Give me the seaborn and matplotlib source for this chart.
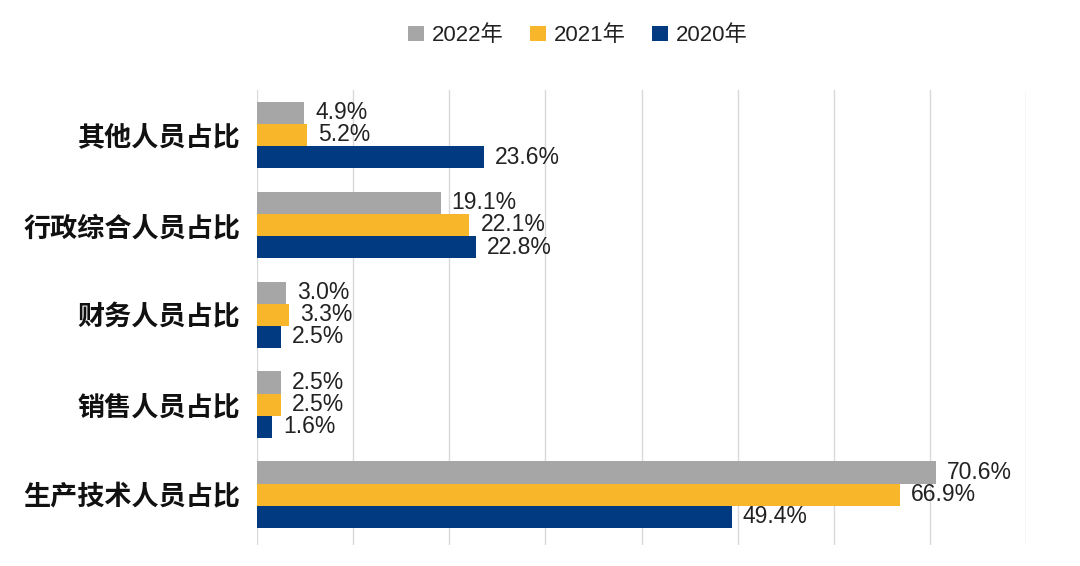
import matplotlib
matplotlib.use("Agg")
import matplotlib.pyplot as plt
import seaborn as sns
import pandas as pd
from matplotlib.patches import Patch

categories = ["其他人员占比", "行政综合人员占比", "财务人员占比", "销售人员占比", "生产技术人员占比"]
years = ["2022年", "2021年", "2020年"]
v2022 = [4.9, 19.1, 3.0, 2.5, 70.6]
v2021 = [5.2, 22.1, 3.3, 2.5, 66.9]
v2020 = [23.6, 22.8, 2.5, 1.6, 49.4]
colors = ["#A6A6A6", "#F8B72A", "#013A80"]

rows = []
for y, vals in zip(years, [v2022, v2021, v2020]):
    for c, v in zip(categories, vals):
        rows.append({"cat": c, "year": y, "val": v})
df = pd.DataFrame(rows)

sns.set_theme(style="white")
plt.rcParams["font.family"] = ["Noto Sans CJK SC", "DejaVu Sans"]

fig = plt.figure(figsize=(10.8, 5.66), dpi=100)
ax = fig.add_axes([257/1080, 1-545/566, (1026-257)/1080, (545-90)/566])

sns.barplot(data=df, y="cat", x="val", hue="year", order=categories, hue_order=years,
            palette=colors, orient="h", width=0.74, saturation=1, ax=ax, legend=False,
            edgecolor="none", errorbar=None)

for cont in ax.containers:
    ax.bar_label(cont, fmt="%.1f%%", padding=8, fontsize=16.5, color="#222222",
                 family=["Liberation Sans", "DejaVu Sans"])

ax.set_xlim(0, 80)
ax.set_ylim(4.56, -0.5)
ax.set_xticks(range(0, 81, 10))
ax.set_xticklabels([])
ax.grid(axis="x", color="#D9D9D9", linewidth=1)
ax.set_axisbelow(True)
for s in ax.spines.values():
    s.set_visible(False)
ax.tick_params(axis="both", length=0)
ax.set_xlabel("")
ax.set_ylabel("")
ax.set_yticks(range(len(categories)))
ax.set_yticklabels(categories, fontsize=19.5, fontweight="bold", color="#111111")
ax.tick_params(axis="y", pad=12)

handles = [Patch(facecolor=c, edgecolor="none", label=y) for c, y in zip(colors, years)]
fig.legend(handles=handles, loc="center", bbox_to_anchor=(0.535, 0.937), ncol=3,
           frameon=False, handlelength=0.7, handleheight=0.7,
           handletextpad=0.35, columnspacing=1.2, labelcolor="#222222",
           prop={"family": ["Liberation Sans", "Noto Sans CJK SC"], "size": 16})

fig.savefig("out.png", dpi=100)
